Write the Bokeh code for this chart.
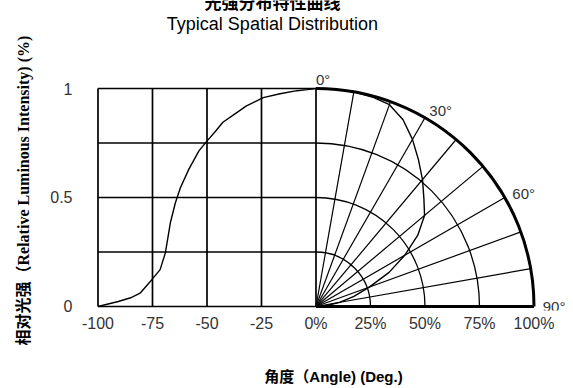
import math
from bokeh.plotting import figure
from bokeh.models import Range1d, FixedTicker, Title
from bokeh.embed import file_html
from bokeh.resources import INLINE
from bokeh.core.properties import value

# ---------------- data ----------------
title_cn = "光强分布特性曲线"
title_en = "Typical Spatial Distribution"
x_label = "角度（Angle) (Deg.)"
y_label = "相对光强（Relative Luminous Intensity) (%)"

# rectangular curve: relative intensity vs angle (deg)
left_angles = [-100, -90.7, -85, -80.7, -75.3, -71.5, -69.1, -66.8, -64.5, -62.2,
               -58.3, -53.7, -50.5, -46, -42.7, -37, -31.9, -24.2, -16.5, -8.7, -4, 0]
left_intensity = [0.0, 0.023, 0.04, 0.061, 0.123, 0.169, 0.246, 0.384, 0.476, 0.545,
                  0.63, 0.714, 0.753, 0.805, 0.845, 0.885, 0.92, 0.958, 0.976,
                  0.99, 0.995, 1.0]

# polar curve: relative intensity vs angle (deg from axis)
polar_angles = [0, 5, 10, 15, 20, 25, 30, 35, 40, 45, 50, 55, 60, 65, 70, 75, 80, 85, 90]
polar_intensity = [1.0, 1.0, 1.0, 0.995, 0.985, 0.945, 0.885, 0.82, 0.76, 0.70,
                   0.65, 0.57, 0.47, 0.37, 0.26, 0.18, 0.11, 0.05, 0.0]

x_ticks = [-100, -75, -50, -25, 0, 25, 50, 75, 100]
x_tick_labels = ["-100", "-75", "-50", "-25", "0%", "25%", "50%", "75%", "100%"]
y_ticks = [0, 0.5, 1]
y_tick_labels = ["0", "0.5", "1"]

grid_x = [-100, -75, -50, -25, 0]
grid_y = [0, 0.25, 0.5, 0.75, 1]
ring_levels = [25, 50, 75]          # percent rings
outer_ring = 100
spoke_angles = [10, 20, 30, 40, 50, 60, 70, 80]
angle_label_values = [0, 30, 60, 90]
angle_labels = ["0°", "30°", "60°", "90°"]

# -------------- figure --------------
SANS = "'Liberation Sans', Arial, sans-serif"
INK = "#000000"
TXT = "#333333"

p = figure(width=573, height=388, title=None,
           x_range=Range1d(-102.06, 118.12), y_range=Range1d(-0.0184, 1.4037),
           output_backend="svg", toolbar_location=None,
           min_border_left=93, min_border_right=0,
           min_border_top=0, min_border_bottom=78)
p.xgrid.visible = False
p.ygrid.visible = False
p.outline_line_color = None
p.background_fill_color = "white"
p.border_fill_color = "white"

for ax in (p.xaxis[0], p.yaxis[0]):
    ax.axis_line_color = None
    ax.major_tick_line_color = None
    ax.minor_tick_line_color = None
    ax.major_tick_out = 0
    ax.major_tick_in = 0
    ax.minor_tick_out = 0
    ax.minor_tick_in = 0
    ax.major_label_text_font = SANS
    ax.major_label_text_font_size = "16px"
    ax.major_label_text_color = TXT

p.xaxis.ticker = FixedTicker(ticks=x_ticks)
p.xaxis.major_label_overrides = dict(zip(x_ticks, x_tick_labels))
p.xaxis.major_label_standoff = 4
p.xaxis.axis_label = x_label
p.xaxis.axis_label_standoff = 33
p.xaxis.axis_label_text_font = "'Liberation Sans', 'Noto Sans CJK SC', sans-serif"
p.xaxis.axis_label_text_font_style = "bold"
p.xaxis.axis_label_text_font_size = "15px"
p.xaxis.axis_label_text_color = INK

p.yaxis.ticker = FixedTicker(ticks=y_ticks)
p.yaxis.major_label_overrides = dict(zip(y_ticks, y_tick_labels))
p.yaxis.major_label_standoff = 21

# y axis title (placed as a side title so it can sit lower, as in the original)
p.add_layout(Title(text=y_label, align="left", vertical_align="top", offset=-35, standoff=27,
                   text_font="'Liberation Serif', 'Noto Sans CJK SC', serif",
                   text_font_style="bold", text_font_size="16px", text_color=INK), "left")

# rectangular grid (left half)
p.segment(x0=grid_x, y0=[grid_y[0]] * len(grid_x), x1=grid_x, y1=[grid_y[-1]] * len(grid_x),
          line_color=INK, line_width=1.7)
p.segment(x0=[grid_x[0]] * len(grid_y), y0=grid_y, x1=[grid_x[-1]] * len(grid_y), y1=grid_y,
          line_color=INK, line_width=1.7)

# polar grid (right half)
p.arc(x=0, y=0, radius=ring_levels, start_angle=0, end_angle=math.pi / 2,
      line_color=INK, line_width=1.3)
sx = [outer_ring * math.sin(math.radians(a)) for a in spoke_angles]
sy = [math.cos(math.radians(a)) for a in spoke_angles]
p.segment(x0=[0] * len(spoke_angles), y0=[0] * len(spoke_angles), x1=sx, y1=sy,
          line_color=INK, line_width=1.2)
p.arc(x=0, y=0, radius=outer_ring, start_angle=0, end_angle=math.pi / 2,
      line_color=INK, line_width=3)
p.segment(x0=[0], y0=[0], x1=[outer_ring], y1=[0], line_color=INK, line_width=3)

# curves
p.line(left_angles, left_intensity, line_color=INK, line_width=1.4)
px = [outer_ring * r * math.sin(math.radians(a)) for a, r in zip(polar_angles, polar_intensity)]
py = [r * math.cos(math.radians(a)) for a, r in zip(polar_angles, polar_intensity)]
p.line(px, py, line_color=INK, line_width=1.4)

# polar angle labels
R = 1.04
lx = [outer_ring * R * math.sin(math.radians(a)) for a in angle_label_values]
ly = [R * math.cos(math.radians(a)) for a in angle_label_values]
p.text(x=lx, y=ly, text=angle_labels, text_align="left", text_baseline="alphabetic",
       text_font=value(SANS), text_font_size="15px", text_color=TXT)

# chart titles (top two lines; the first one runs off the top edge as in the original)
p.text(x=[-20], y=[1.294], text=[title_en], text_align="center", text_baseline="alphabetic",
       text_font=value(SANS), text_font_size="18px", text_color=INK)
p.text(x=[-20], y=[1.397], text=[title_cn], text_align="center", text_baseline="alphabetic",
       text_font=value("'Noto Sans CJK SC', sans-serif"), text_font_style="bold",
       text_font_size="17px", text_color=INK)

open("out.html", "w").write(file_html(p, INLINE))
